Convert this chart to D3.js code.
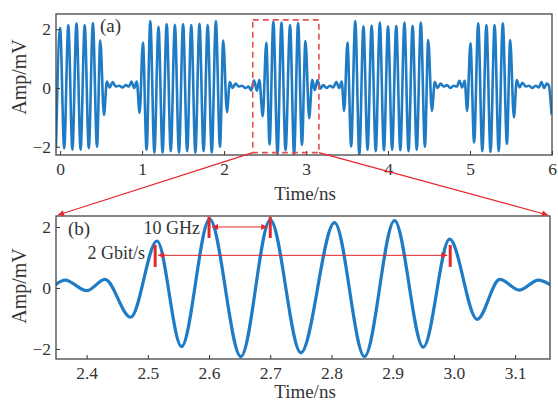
<!DOCTYPE html>
<html>
<head>
<meta charset="utf-8">
<script src="https://cdn.jsdelivr.net/npm/d3@7"></script>
<style>
  body { margin: 0; background: #fff; }
  svg { display: block; font-family: "Liberation Serif", "Times New Roman", serif; }
</style>
</head>
<body>
<div id="chart"></div>
<script>
// waveform extrema [time ns, amplitude mV]
const burst1 = [[-0.05,-2.05],[0.0,2.05],[0.05,-2.05],[0.10,2.14],[0.15,-2.1],[0.20,2.2],[0.25,-2.1],
  [0.30,2.14],[0.35,-2.05],[0.40,2.21],[0.45,-2.0],[0.49,1.62],[0.535,-0.92]];
const gap1 = [[0.57,0.22],[0.605,0.02],[0.64,0.2],[0.68,0.05],[0.72,0.08],[0.76,0.02],[0.80,0.1],
  [0.84,0.05],[0.87,0.22],[0.905,0.0],[0.935,0.22],[0.97,-0.85]];
const burst2 = [[1.01,1.55],[1.055,-2.1],[1.1,2.28],[1.15,-2.2],[1.2,2.08],[1.25,-2.2],[1.3,2.18],
  [1.35,-2.15],[1.4,2.15],[1.45,-2.2],[1.5,2.18],[1.55,-2.15],[1.6,2.14],[1.65,-2.2],[1.7,2.19],
  [1.75,-2.15],[1.8,2.14],[1.85,-2.2],[1.9,2.28],[1.95,-2.0],[1.99,1.62],[2.035,-0.82]];
const gap2 = [[2.07,0.2],[2.105,0.0],[2.14,0.15],[2.18,0.05],[2.22,0.08],[2.26,0.0],[2.30,0.05],
  [2.33,-0.08],[2.365,0.26],[2.40,-0.09],[2.43,0.28],[2.472,-0.96]];
const burst3 = [[2.515,1.54],[2.555,-1.92],[2.601,2.26],[2.652,-2.25],[2.70,2.23],[2.75,-2.12],
  [2.805,2.14],[2.854,-2.25],[2.903,2.21],[2.95,-1.94],[2.993,1.6],[3.038,-1.03]];
const gap3 = [[3.075,0.28],[3.107,-0.07],[3.138,0.26],[3.175,-0.02],[3.21,0.1],[3.25,0.0],[3.29,0.08],
  [3.33,0.02],[3.37,0.2],[3.405,0.0],[3.435,0.22],[3.465,-0.78]];
const burst4 = [[3.505,1.55],[3.55,-1.99],[3.6,2.28],[3.65,-2.27],[3.7,2.1],[3.75,-2.1],[3.8,2.13],
  [3.85,-2.15],[3.9,2.23],[3.95,-2.12],[4.0,2.1],[4.05,-2.1],[4.1,2.12],[4.15,-2.12],[4.2,2.23],
  [4.25,-2.15],[4.3,2.12],[4.35,-2.1],[4.4,2.23],[4.45,-2.0],[4.49,1.63],[4.535,-0.78]];
const gap4 = [[4.57,0.2],[4.605,0.0],[4.64,0.15],[4.68,0.05],[4.72,0.1],[4.76,0.0],[4.80,0.08],
  [4.84,0.05],[4.87,0.25],[4.905,0.02],[4.935,0.25],[4.965,-0.78]];
const burst5 = [[5.005,1.52],[5.05,-1.85],[5.1,2.2],[5.15,-2.15],[5.2,2.14],[5.25,-2.17],[5.3,2.14],
  [5.35,-2.15],[5.4,2.2],[5.45,-1.9],[5.49,1.63],[5.535,-1.0]];
const gap5 = [[5.57,0.27],[5.605,0.02],[5.64,0.18],[5.68,0.05],[5.72,0.08],[5.76,0.0],[5.80,0.08],
  [5.84,0.02],[5.87,0.2],[5.905,0.0],[5.935,0.15],[5.96,0.1],[5.995,-0.9]];

const wave = [].concat(burst1, gap1, burst2, gap2, burst3, gap3, burst4, gap4, burst5, gap5);

const topTicks = [0, 1, 2, 3, 4, 5, 6];
const botTicks = [2.4, 2.5, 2.6, 2.7, 2.8, 2.9, 3.0, 3.1];
const ampTicks = [-2, 0, 2];

// zoom window shown in (b)
const zoomT = [2.35, 3.157];
const zoomBoxAmp = [-2.2, 2.32];

// annotations in (b)
const ghzMarks = [2.6, 2.7], ghzSpan = [1.64, 2.33], ghzArrowAmp = 2.0;
const bitMarks = [2.512, 2.994], bitSpan = [0.69, 1.41], bitArrowAmp = 1.07;

const width = 558, height = 403;
const blue = "#1f7bc4", red = "#e5262b", ink = "#333";

const svg = d3.select("#chart").append("svg")
    .attr("width", width).attr("height", height)
    .attr("viewBox", [0, 0, width, height]);

const defs = svg.append("defs");
defs.append("marker")
    .attr("id", "head")
    .attr("viewBox", "0 0 10 10")
    .attr("refX", 10).attr("refY", 5)
    .attr("markerUnits", "userSpaceOnUse")
    .attr("markerWidth", 9).attr("markerHeight", 6)
    .attr("orient", "auto-start-reverse")
    .append("path")
    .attr("d", "M0,0L10,5L0,10z")
    .attr("fill", red);

function panel(x, y, ticks, fmt, data, id, lw) {
    const [x0, x1] = x.range(), [y1, y0] = y.range();

    defs.append("clipPath").attr("id", id)
        .append("rect").attr("x", x0).attr("y", y0).attr("width", x1 - x0).attr("height", y1 - y0);

    const line = d3.line()
        .x(d => x(d[0]))
        .y(d => y(d[1]))
        .curve(d3.curveMonotoneX);

    svg.append("path")
        .datum(data)
        .attr("clip-path", `url(#${id})`)
        .attr("fill", "none")
        .attr("stroke", blue)
        .attr("stroke-width", lw)
        .attr("stroke-linejoin", "round")
        .attr("d", line);

    const xa = svg.append("g")
        .attr("transform", `translate(0,${y1})`)
        .call(d3.axisBottom(x).tickValues(ticks).tickFormat(fmt).tickSize(-4).tickPadding(8));
    const ya = svg.append("g")
        .attr("transform", `translate(${x0},0)`)
        .call(d3.axisLeft(y).tickValues(ampTicks).tickFormat(d3.format("d")).tickSize(-4).tickPadding(5));

    for (const a of [xa, ya]) {
        a.select(".domain").remove();
        a.selectAll("line").attr("stroke", ink);
        a.selectAll("text").attr("fill", ink).attr("font-size", 17.5)
            .attr("font-family", "Liberation Serif, serif");
    }

    svg.append("rect")
        .attr("x", x0).attr("y", y0)
        .attr("width", x1 - x0).attr("height", y1 - y0)
        .attr("fill", "none").attr("stroke", "#444").attr("stroke-width", 1.3);
}

const topX = d3.scaleLinear().domain([-0.05, 6]).range([56, 552]);
const topY = d3.scaleLinear().domain([-2.28, 2.52]).range([155, 14]);
const botX = d3.scaleLinear().domain(zoomT).range([56, 550]);
const botY = d3.scaleLinear().domain([-2.33, 2.36]).range([359, 216]);

panel(topX, topY, topTicks, d3.format("d"), wave, "clipA", 2.6);
panel(botX, botY, botTicks, d3.format(".1f"),
    wave.filter(d => d[0] > 2.25 && d[0] < 3.25), "clipB", 3.2);

// axis titles
svg.append("text").attr("x", 305).attr("y", 200).attr("text-anchor", "middle")
    .attr("font-size", 19).attr("fill", ink).text("Time/ns");
svg.append("text").attr("x", 305).attr("y", 398).attr("text-anchor", "middle")
    .attr("font-size", 19).attr("fill", ink).text("Time/ns");
for (const cy of [77, 286]) {
    svg.append("text")
        .attr("transform", `translate(26,${cy}) rotate(-90)`)
        .attr("text-anchor", "middle")
        .attr("font-size", 20).attr("fill", ink).text("Amp/mV");
}

svg.append("text").attr("x", 100).attr("y", 32).attr("font-size", 19).attr("fill", ink).text("(a)");
svg.append("text").attr("x", 68).attr("y", 235).attr("font-size", 19).attr("fill", ink).text("(b)");

// zoom box and connectors
svg.append("rect")
    .attr("x", topX(zoomT[0])).attr("y", topY(zoomBoxAmp[1]))
    .attr("width", topX(zoomT[1]) - topX(zoomT[0]))
    .attr("height", topY(zoomBoxAmp[0]) - topY(zoomBoxAmp[1]))
    .attr("fill", "none").attr("stroke", "#e2504f")
    .attr("stroke-width", 1.6).attr("stroke-dasharray", "6,4");

const connectors = [
    [topX(zoomT[0]), topY(zoomBoxAmp[0]), botX(zoomT[0]) + 2, botY.range()[1] - 1],
    [topX(zoomT[1]), topY(zoomBoxAmp[0]), botX(zoomT[1]) - 2, botY.range()[1] - 1]
];
svg.selectAll(".conn")
    .data(connectors)
    .join("line")
    .attr("class", "conn")
    .attr("x1", d => d[0]).attr("y1", d => d[1])
    .attr("x2", d => d[2]).attr("y2", d => d[3])
    .attr("stroke", red).attr("stroke-width", 1.2)
    .attr("marker-end", "url(#head)");

// 10 GHz and 2 Gbit/s markers
const marks = [
    ...ghzMarks.map(t => [t, ghzSpan]),
    ...bitMarks.map(t => [t, bitSpan])
];
svg.selectAll(".mark")
    .data(marks)
    .join("line")
    .attr("class", "mark")
    .attr("x1", d => botX(d[0])).attr("x2", d => botX(d[0]))
    .attr("y1", d => botY(d[1][0])).attr("y2", d => botY(d[1][1]))
    .attr("stroke", red).attr("stroke-width", 3);

const arrows = [
    [ghzMarks[0], ghzMarks[1], ghzArrowAmp],
    [bitMarks[0], bitMarks[1], bitArrowAmp]
];
svg.selectAll(".span")
    .data(arrows)
    .join("line")
    .attr("class", "span")
    .attr("x1", d => botX(d[0]) + 3).attr("x2", d => botX(d[1]) - 3)
    .attr("y1", d => botY(d[2])).attr("y2", d => botY(d[2]))
    .attr("stroke", red).attr("stroke-width", 1)
    .attr("marker-start", "url(#head)")
    .attr("marker-end", "url(#head)");

svg.append("text").attr("x", 200).attr("y", 234).attr("text-anchor", "end")
    .attr("font-size", 18).attr("fill", ink).text("10 GHz");
svg.append("text").attr("x", 145).attr("y", 259).attr("text-anchor", "end")
    .attr("font-size", 18).attr("fill", ink).text("2 Gbit/s");
</script>
</body>
</html>
